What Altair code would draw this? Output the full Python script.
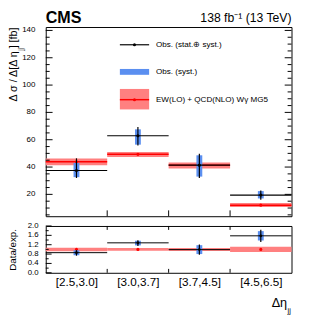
import json
import altair as alt
import pandas as pd

# ---------------- data ----------------
bins = ["[2.5,3.0]", "[3.0,3.7]", "[3.7,4.5]", "[4.5,6.5]"]
obs = [37.5, 62.9, 41.4, 19.5]
obs_tot_lo = [32.0, 55.7, 32.0, 16.0]
obs_tot_hi = [46.4, 69.3, 49.8, 22.9]
obs_syst_lo = [32.6, 56.4, 33.0, 17.0]
obs_syst_hi = [43.0, 67.6, 48.6, 22.4]
pred = [43.8, 49.3, 41.4, 12.1]
pred_lo = [41.4, 47.4, 39.0, 10.7]
pred_hi = [46.2, 51.0, 43.3, 13.6]

ratio = [0.86, 1.28, 0.99, 1.58]
ratio_tot_lo = [0.73, 1.14, 0.77, 1.32]
ratio_tot_hi = [0.97, 1.39, 1.21, 1.84]
ratio_syst_lo = [0.75, 1.17, 0.80, 1.38]
ratio_syst_hi = [0.96, 1.37, 1.18, 1.78]
ratio_pred = [1.0, 1.0, 1.0, 1.0]
ratio_pred_lo = [0.92, 0.94, 0.93, 0.89]
ratio_pred_hi = [1.07, 1.06, 1.06, 1.11]

y_major = [20, 40, 60, 80, 100, 120, 140]
y_minor = [v for v in range(5, 141, 5) if v % 20 != 0]
r_major = [0.0, 0.4, 0.8, 1.2, 1.6, 2.0]
r_minor = [0.2, 0.6, 1.0, 1.4, 1.8]
boundaries = [1, 2, 3]

FONT = "Liberation Sans"
BLUE = "#5b8ff0"
BAND = "#ff8080"
RED = "#ff0000"
W, H1, H2, GAP = 252, 194, 48, 10
PAD_L, PAD_T = 38.7, 15.5

n = len(bins)
df = pd.DataFrame({
    "x0": list(range(n)),
    "x1": [i + 1 for i in range(n)],
    "xc": [i + 0.5 for i in range(n)],
    "obs": obs, "tlo": obs_tot_lo, "thi": obs_tot_hi,
    "slo": obs_syst_lo, "shi": obs_syst_hi,
    "pred": pred, "plo": pred_lo, "phi": pred_hi,
    "r": ratio, "rtlo": ratio_tot_lo, "rthi": ratio_tot_hi,
    "rslo": ratio_syst_lo, "rshi": ratio_syst_hi,
    "rp": ratio_pred, "rplo": ratio_pred_lo, "rphi": ratio_pred_hi,
})
bdf = pd.DataFrame({"b": boundaries})
one = pd.DataFrame({"k": [0]})

xs = alt.Scale(domain=[0, 4], nice=False, zero=False)
ys = alt.Scale(domain=[4, 142.5], nice=False, zero=False)
rs = alt.Scale(domain=[0, 2], nice=False, zero=False)

MAIN_TITLE = "Δ σ / Δ[Δ η ] [fb]"
yaxis = alt.Axis(labels=False, ticks=False, domain=False, grid=False,
                 titleFont=FONT, titleFontSize=11,
                 titleFontWeight="normal", titleAnchor="end", titlePadding=27.7)
label_expr = json.dumps(bins) + "[floor(datum.value)]"
xaxis = alt.Axis(values=[0.5, 1.5, 2.5, 3.5], labelExpr=label_expr, ticks=False,
                 domain=False, grid=False, labelFontSize=12, labelFont=FONT,
                 labelOverlap=False, labelPadding=4.5)
raxis = alt.Axis(labels=False, ticks=False, domain=False, grid=False,
                 titleFont=FONT, titleFontSize=10,
                 titleFontWeight="normal", titlePadding=29.5)


def X(f, axis=None):
    return alt.X(f + ":Q", scale=xs, axis=axis, title=None)


def X2(f):
    return alt.X2(f)


def Y(f):
    return alt.Y(f + ":Q", scale=ys, axis=yaxis, title=MAIN_TITLE)


def R(f):
    return alt.Y(f + ":Q", scale=rs, axis=raxis, title="Data/exp.")


# ---------------- main panel ----------------
base = alt.Chart(df)
band = base.mark_rect(color=BAND).encode(x=X("x0"), x2=X2("x1"), y=Y("plo"), y2="phi")
pline = base.mark_rule(color=RED, strokeWidth=1.5).encode(
    x=X("x0"), x2=X2("x1"), y=Y("pred"))
pdot = base.mark_point(filled=True, color=RED, size=10, opacity=1).encode(
    x=X("xc"), y=Y("pred"))
syst = base.mark_rule(color=BLUE, strokeWidth=6).encode(x=X("xc"), y=Y("slo"), y2="shi")
hline = base.mark_rule(color="black", strokeWidth=1.2).encode(
    x=X("x0"), x2=X2("x1"), y=Y("obs"))
vline = base.mark_rule(color="black", strokeWidth=1.2).encode(
    x=X("xc"), y=Y("tlo"), y2="thi")
odot = base.mark_point(filled=True, color="black", size=10, opacity=1).encode(
    x=X("xc"), y=Y("obs"))

tmaj = pd.DataFrame({"v": y_major})
tmin = pd.DataFrame({"v": y_minor})
ticks_main = alt.layer(
    alt.Chart(tmaj).mark_rule(color="black").encode(
        x=alt.value(0), x2=alt.value(7), y=Y("v")),
    alt.Chart(tmin).mark_rule(color="black").encode(
        x=alt.value(0), x2=alt.value(4), y=Y("v")),
    alt.Chart(tmaj).mark_rule(color="black").encode(
        x=alt.value(W), x2=alt.value(W - 7), y=Y("v")),
    alt.Chart(tmin).mark_rule(color="black").encode(
        x=alt.value(W), x2=alt.value(W - 4), y=Y("v")),
    alt.Chart(bdf).mark_rule(color="black").encode(
        x=X("b"), y=alt.value(H1), y2=alt.value(H1 - 6)),
    alt.Chart(tmaj).mark_text(align="right", baseline="middle", font=FONT,
                              fontSize=8.2, color="black").encode(
        x=alt.value(-10.5), y=Y("v"), text=alt.Text("v:Q", format="d")),
)

# legend and headers (decoration)
lg = alt.Chart(one)
legend = alt.layer(
    lg.mark_rule(color="black", strokeWidth=1.2).encode(
        x=alt.value(76), x2=alt.value(106), y=alt.value(18.2)),
    lg.mark_point(filled=True, color="black", size=10, opacity=1).encode(
        x=alt.value(91), y=alt.value(18.2)),
    lg.mark_text(text="Obs. (stat.⊕ syst.)", align="left", baseline="middle",
                 font=FONT, fontSize=8.3).encode(x=alt.value(113), y=alt.value(18.2)),
    lg.mark_rect(color=BLUE).encode(
        x=alt.value(76), x2=alt.value(106), y=alt.value(43), y2=alt.value(49)),
    lg.mark_text(text="Obs. (syst.)", align="left", baseline="middle",
                 font=FONT, fontSize=8.3).encode(x=alt.value(113), y=alt.value(46)),
    lg.mark_rect(color=BAND).encode(
        x=alt.value(76), x2=alt.value(106), y=alt.value(63.5), y2=alt.value(84.5)),
    lg.mark_rule(color=RED, strokeWidth=1.5).encode(
        x=alt.value(76), x2=alt.value(106), y=alt.value(74.5)),
    lg.mark_point(filled=True, color=RED, size=10, opacity=1).encode(
        x=alt.value(91), y=alt.value(74.5)),
    lg.mark_text(text="EW(LO) + QCD(NLO) Wγ MG5", align="left", baseline="middle",
                 font=FONT, fontSize=8.3).encode(x=alt.value(113), y=alt.value(74.5)),
    lg.mark_text(text="CMS", align="left", baseline="alphabetic", font=FONT,
                 fontSize=16.5, fontWeight="bold").encode(x=alt.value(0), y=alt.value(-4)),
    lg.mark_text(text="138 fb⁻¹ (13 TeV)", align="right", baseline="alphabetic",
                 font=FONT, fontSize=12.5).encode(x=alt.value(W), y=alt.value(-5)),
    lg.mark_text(text="jj", align="right", baseline="top", angle=270, font=FONT,
                 fontSize=6.5, color="#444444").encode(x=alt.value(-28), y=alt.value(21.5)),
)

main = alt.layer(band, pline, pdot, syst, hline, vline, odot, ticks_main, legend).properties(
    width=W, height=H1)

# ---------------- ratio panel ----------------
rband = base.mark_rect(color=BAND).encode(
    x=X("x0", xaxis), x2=X2("x1"), y=R("rplo"), y2="rphi")
rpdot = base.mark_point(filled=True, color=RED, size=10, opacity=1).encode(
    x=X("xc", xaxis), y=R("rp"))
rsyst = base.mark_rule(color=BLUE, strokeWidth=6).encode(
    x=X("xc", xaxis), y=R("rslo"), y2="rshi")
rhline = base.mark_rule(color="black", strokeWidth=1).encode(
    x=X("x0", xaxis), x2=X2("x1"), y=R("r"))
rvline = base.mark_rule(color="black", strokeWidth=1.2).encode(
    x=X("xc", xaxis), y=R("rtlo"), y2="rthi")
rodot = base.mark_point(filled=True, color="black", size=8, opacity=1).encode(
    x=X("xc", xaxis), y=R("r"))

rmaj = pd.DataFrame({"v": r_major})
rmin = pd.DataFrame({"v": r_minor})
ticks_ratio = alt.layer(
    alt.Chart(rmaj).mark_rule(color="black").encode(
        x=alt.value(0), x2=alt.value(6), y=R("v")),
    alt.Chart(rmin).mark_rule(color="black").encode(
        x=alt.value(0), x2=alt.value(3), y=R("v")),
    alt.Chart(bdf).mark_rule(color="black").encode(
        x=X("b", xaxis), y=alt.value(H2), y2=alt.value(H2 - 4)),
    alt.Chart(bdf).mark_rule(color="black").encode(
        x=X("b", xaxis), y=alt.value(0), y2=alt.value(4)),
    alt.Chart(rmaj).mark_text(align="right", baseline="middle", font=FONT,
                              fontSize=8, color="black").encode(
        x=alt.value(-7.4), y=R("v"), text=alt.Text("v:Q", format=".1f")),
)
rtitle = alt.layer(
    alt.Chart(one).mark_text(text="Δη", align="right", baseline="alphabetic",
                             font=FONT, fontSize=13).encode(x=alt.value(247.5), y=alt.value(83)),
    alt.Chart(one).mark_text(text="jj", align="left", baseline="top",
                             font=FONT, fontSize=7.5).encode(x=alt.value(248), y=alt.value(83.5)),
)

ratio_panel = alt.layer(rband, rpdot, rsyst, rhline, rvline, rodot, ticks_ratio, rtitle).properties(
    width=W, height=H2)

# with autosize "none" the root view reports width = W and height = 0,
# so the paddings below give a 324 x 316 svg
chart = alt.vconcat(main, ratio_panel, spacing=GAP, bounds="flush").properties(
    autosize=alt.AutoSizeParams(type="none"),
    padding={"left": PAD_L, "top": PAD_T,
             "right": 324 - PAD_L - W, "bottom": 316 - PAD_T},
).configure_view(stroke="black", strokeWidth=1).configure_axis(
    labelColor="black", titleColor="black")

chart.save("out.html", embed_options={"renderer": "svg", "actions": False})
